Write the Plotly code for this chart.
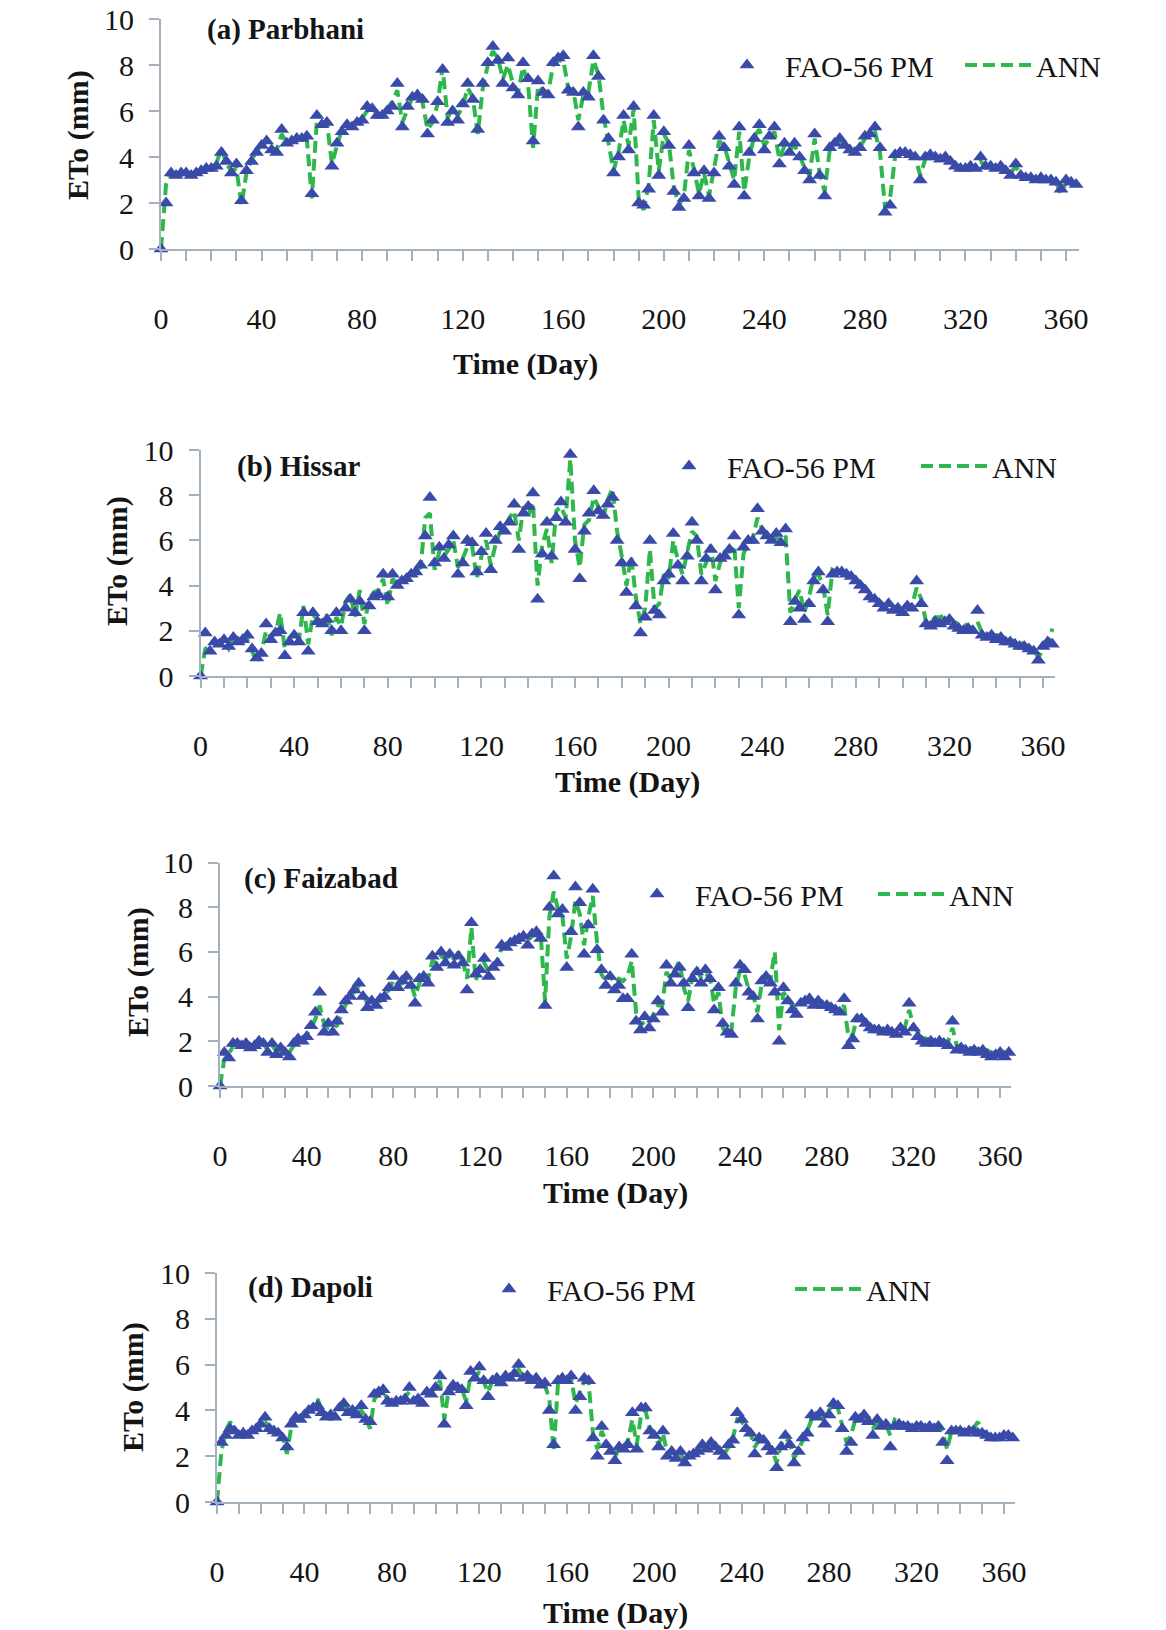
import plotly.graph_objects as go

# ---------------- data ----------------
days = list(range(0, 366, 2))
x_tick_vals = [0, 40, 80, 120, 160, 200, 240, 280, 320, 360]
x_tick_text = ["0", "40", "80", "120", "160", "200", "240", "280", "320", "360"]
y_tick_vals = [0, 2, 4, 6, 8, 10]
y_tick_text = ["0", "2", "4", "6", "8", "10"]
series_names = ["FAO-56 PM", "ANN"]
station_titles = ["(a) Parbhani", "(b) Hissar", "(c) Faizabad", "(d) Dapoli"]

parbhani_fao = [
    0, 2.0, 3.3, 3.2, 3.3, 3.3, 3.2, 3.3, 3.4, 3.5,
    3.5, 3.6, 4.2, 3.8, 3.3, 3.7, 2.1, 3.4, 3.8, 4.2,
    4.5, 4.7, 4.3, 4.2, 5.2, 4.6, 4.7, 4.8, 4.8, 4.9,
    2.4, 5.8, 5.4, 5.5, 3.6, 4.6, 5.1, 5.4, 5.3, 5.5,
    5.6, 6.2, 6.1, 5.8, 5.8, 6.0, 6.2, 7.2, 5.3, 6.2,
    6.6, 6.7, 6.5, 5.0, 5.6, 6.4, 7.8, 5.5, 6.0, 5.6,
    6.3, 7.2, 6.5, 5.2, 7.2, 8.1, 8.8, 8.2, 7.2, 8.3,
    7.0, 6.7, 8.1, 7.4, 4.7, 7.3, 6.8, 6.7, 8.1, 8.3,
    8.4, 6.9, 6.8, 5.3, 6.8, 6.6, 8.4, 7.5, 5.6, 4.8,
    3.3, 4.0, 5.8, 4.3, 6.2, 2.0, 1.9, 2.6, 5.8, 3.2,
    5.1, 4.5, 2.5, 1.8, 2.2, 4.5, 3.3, 2.3, 3.4, 2.2,
    3.3, 4.9, 4.4, 3.6, 2.8, 5.3, 2.3, 4.2, 4.8, 5.4,
    4.3, 4.9, 5.3, 3.7, 4.6, 4.2, 4.6, 4.0, 3.4, 3.0,
    5.0, 3.2, 2.3, 4.4, 4.6, 4.8, 4.5, 4.3, 4.2, 4.4,
    4.9, 5.0, 5.3, 4.4, 1.6, 1.9, 4.1, 4.2, 4.2, 4.1,
    4.0, 3.0, 4.0, 4.1, 4.0, 3.9, 4.0, 3.8, 3.6, 3.5,
    3.5, 3.6, 3.5, 4.0, 3.6, 3.6, 3.5, 3.6, 3.4, 3.2,
    3.7, 3.2, 3.1, 3.1, 3.0, 3.1, 3.0, 3.0, 2.9, 2.6,
    3.0, 2.9, 2.8]
parbhani_ann = [
    0, 2.8, 3.3, 3.2, 3.3, 3.3, 3.3, 3.3, 3.4, 3.5,
    3.5, 3.7, 4.4, 3.7, 3.4, 3.5, 1.9, 3.3, 3.9, 4.2,
    4.6, 4.6, 4.4, 4.3, 5.0, 4.6, 4.7, 4.8, 4.9, 4.8,
    2.2, 5.6, 5.5, 5.5, 3.7, 4.5, 5.2, 5.3, 5.4, 5.5,
    5.7, 6.0, 6.2, 5.8, 5.9, 6.1, 6.4, 6.9, 5.5, 6.1,
    6.6, 6.6, 6.4, 5.2, 5.5, 6.3, 7.9, 5.7, 6.1, 5.8,
    6.2, 7.0, 6.6, 5.0, 7.0, 8.0, 8.6, 8.3, 7.4, 8.0,
    7.2, 6.8, 7.9, 7.2, 4.4, 7.1, 6.9, 6.8, 8.0, 8.2,
    8.2, 7.0, 6.9, 5.6, 6.7, 6.8, 8.2, 7.6, 5.8, 4.6,
    3.4, 4.2, 5.6, 4.5, 6.1, 2.2, 1.7, 2.8, 5.6, 3.4,
    5.0, 4.6, 2.7, 1.9, 2.3, 4.3, 3.5, 2.4, 3.3, 2.3,
    3.5, 4.7, 4.5, 3.8, 3.0, 5.1, 2.5, 4.0, 4.9, 5.2,
    4.5, 4.8, 5.1, 3.9, 4.5, 4.3, 4.5, 4.1, 3.5, 3.2,
    4.8, 3.3, 2.5, 4.3, 4.6, 4.7, 4.5, 4.3, 4.3, 4.4,
    4.8, 5.0, 5.1, 4.2, 1.8, 2.2, 4.0, 4.2, 4.1, 4.1,
    4.0, 3.2, 3.9, 4.0, 4.0, 3.9, 3.9, 3.8, 3.7, 3.5,
    3.6, 3.5, 3.5, 3.8, 3.6, 3.5, 3.5, 3.5, 3.5, 3.3,
    3.6, 3.2, 3.2, 3.1, 3.1, 3.0, 3.0, 3.0, 2.9, 2.4,
    2.9, 2.9, 2.8]

hissar_fao = [
    0, 1.9, 1.1, 1.5, 1.4, 1.6, 1.3, 1.7, 1.5, 1.6,
    1.8, 1.2, 0.8, 1.0, 2.3, 1.6, 1.9, 2.0, 0.9, 1.5,
    1.8, 1.5, 2.8, 1.1, 2.8, 2.4, 2.3, 2.5, 2.0, 2.8,
    2.0, 3.0, 3.4, 2.8, 3.3, 2.0, 3.1, 3.5, 3.6, 4.5,
    3.5, 4.5, 4.0, 4.2, 4.3, 4.5, 4.6, 4.9, 6.2, 7.9,
    5.0, 5.7, 5.2, 5.8, 6.2, 4.5, 5.0, 6.0, 5.9, 4.6,
    5.5, 6.3, 4.7, 6.0, 6.6, 6.4, 6.8, 7.6, 5.6, 7.2,
    7.5, 8.1, 3.4, 5.4, 6.8, 5.3, 7.0, 7.7, 6.8, 9.8,
    5.6, 4.3, 6.4, 7.2, 8.2, 7.3, 7.1, 7.6, 7.9, 6.0,
    5.0, 3.7, 5.0, 3.1, 1.9, 2.6, 6.0, 2.9, 2.7, 4.2,
    4.5, 6.3, 4.9, 4.2, 5.3, 6.8, 6.0, 4.2, 5.2, 5.6,
    3.8, 5.2, 5.3, 5.6, 6.2, 2.7, 5.7, 6.0, 6.0, 7.4,
    6.4, 6.2, 6.0, 6.3, 5.9, 6.5, 2.4, 3.3, 3.0, 2.5,
    3.2, 4.2, 4.6, 3.8, 2.4, 4.5, 4.6, 4.6, 4.5, 4.4,
    4.2, 4.0, 3.8, 3.5, 3.4, 3.2, 3.0, 3.2, 2.9, 3.0,
    2.8, 3.1, 3.0, 4.2, 3.2, 2.3, 2.2, 2.4, 2.3, 2.4,
    2.5, 2.2, 2.1, 2.0, 2.1, 2.0, 2.9, 1.8, 1.7, 1.8,
    1.6, 1.7, 1.5, 1.5, 1.4, 1.3, 1.3, 1.2, 1.1, 0.7,
    1.3, 1.5, 1.4]
hissar_ann = [
    0, 1.2, 1.3, 1.5, 1.5, 1.5, 1.2, 1.6, 1.6, 1.5,
    1.6, 1.1, 0.6, 1.1, 2.0, 1.7, 1.9, 2.8, 1.2, 1.7,
    1.9, 1.6, 3.1, 1.4, 2.7, 2.5, 2.4, 2.7, 1.8, 2.6,
    2.2, 3.3, 3.6, 2.6, 3.8, 2.3, 3.4, 3.7, 3.8, 4.3,
    3.1, 4.3, 4.1, 4.2, 4.4, 4.6, 4.7, 4.8, 7.0, 7.2,
    4.7, 5.5, 5.3, 5.6, 6.0, 4.8, 5.2, 5.7, 5.8, 4.3,
    5.3, 6.0, 4.9, 5.8, 6.4, 6.6, 7.0, 7.3, 6.0, 7.5,
    7.1, 7.7, 4.0, 5.8, 6.5, 5.0, 7.3, 7.5, 7.0, 9.6,
    6.0, 4.8, 6.7, 6.9, 7.9, 7.5, 7.0, 7.8, 8.3, 6.4,
    5.3, 4.0, 5.3, 3.5, 2.3, 3.0, 5.6, 3.0, 3.2, 4.5,
    4.3, 6.0, 5.1, 4.5, 5.5, 6.4, 6.2, 4.5, 5.0, 5.8,
    4.2, 5.0, 5.5, 5.5, 5.8, 3.0, 5.4, 5.9, 6.1, 7.0,
    6.5, 6.1, 6.2, 6.1, 6.0, 6.2, 2.8, 3.4, 3.8, 2.8,
    3.5, 4.4, 4.5, 4.0, 2.7, 4.7, 4.6, 4.6, 4.6, 4.4,
    4.3, 4.1, 3.9, 3.6, 3.5, 3.3, 3.2, 3.3, 3.1, 3.0,
    3.0, 3.2, 3.1, 3.9, 3.4, 2.4, 2.4, 2.6, 2.6, 2.7,
    2.6, 2.4, 2.3, 2.3, 2.2, 2.1, 2.4, 1.9, 1.9, 1.8,
    1.8, 1.8, 1.6, 1.6, 1.5, 1.5, 1.4, 1.3, 1.2, 0.8,
    1.2, 1.4, 2.1]

faizabad_fao = [
    0, 1.5, 1.25, 1.9, 1.9, 1.8, 1.9, 1.7, 1.8, 2.0,
    1.9, 1.5, 1.9, 1.4, 1.7, 1.5, 1.3, 1.9, 2.1, 2.0,
    2.2, 2.7, 3.3, 4.2, 2.4, 2.8, 2.4, 2.9, 3.4, 3.8,
    4.0, 4.3, 4.6, 4.0, 3.5, 3.8, 3.6, 3.9, 4.0, 4.4,
    4.9, 4.4, 4.7, 4.9, 4.5, 3.7, 4.8, 4.9, 4.6, 5.8,
    5.3, 6.0, 5.5, 5.9, 5.4, 5.8, 5.5, 4.3, 7.3, 5.0,
    5.2, 5.7, 4.9, 5.3, 5.5, 6.3, 6.2, 6.4, 6.5, 6.6,
    6.7, 6.3, 6.8, 6.9, 6.6, 3.6, 8.0, 9.4, 7.7, 7.9,
    5.3, 6.9, 8.9, 8.2, 5.9, 7.2, 8.8, 6.1, 5.2, 4.5,
    4.9, 4.3, 4.5, 3.9, 3.9, 5.9, 2.9, 2.5, 3.1, 2.6,
    3.0, 3.8, 3.3, 5.4, 4.6, 5.0, 5.3, 4.6, 3.5, 4.8,
    5.1, 4.6, 5.2, 4.8, 3.4, 4.4, 2.8, 2.4, 2.3, 4.6,
    5.4, 5.2, 4.2, 4.0, 3.0, 4.7, 4.9, 4.6, 4.2, 2.0,
    4.4, 3.8, 3.4, 3.2, 3.7, 3.8, 3.9, 3.6, 3.8, 3.6,
    3.6, 3.5, 3.4, 3.3, 3.9, 1.8, 2.1, 3.0, 3.0, 2.8,
    2.6, 2.5, 2.5, 2.4, 2.5, 2.4, 2.3, 2.6, 2.4, 3.7,
    2.6, 2.2, 2.0, 1.9, 2.0, 1.9, 2.0, 1.9, 1.8, 2.9,
    1.6, 1.7, 1.6, 1.5, 1.6, 1.5, 1.6, 1.4, 1.3, 1.4,
    1.5, 1.3, 1.5]
faizabad_ann = [
    0, 1.2, 1.4, 1.8, 1.9, 1.9, 1.8, 1.8, 1.8, 1.9,
    1.9, 1.6, 1.8, 1.6, 1.6, 1.6, 1.5, 1.8, 2.0, 2.1,
    2.3, 2.6, 3.0, 3.6, 2.8, 2.6, 2.6, 2.7, 3.2, 3.7,
    4.1, 4.2, 4.4, 4.1, 3.7, 3.7, 3.8, 3.8, 4.1, 4.3,
    4.7, 4.5, 4.6, 4.7, 4.6, 4.0, 4.6, 5.0, 4.8, 5.6,
    5.5, 5.8, 5.7, 5.8, 5.6, 6.0, 5.6, 4.8, 7.1, 4.7,
    5.4, 5.5, 5.1, 5.2, 5.6, 6.2, 6.2, 6.4, 6.5, 6.5,
    6.6, 6.5, 6.7, 6.8, 6.8, 3.8, 7.6, 8.7, 7.9, 7.6,
    5.7, 6.7, 8.3, 7.7, 6.3, 7.6, 8.5, 6.4, 5.0, 4.7,
    5.0, 4.6, 4.8, 4.7, 4.9, 5.6, 3.3, 2.7, 2.9, 2.8,
    3.2, 3.6, 3.6, 5.1, 4.8, 5.2, 5.6, 4.4, 3.8, 4.9,
    5.3, 4.8, 5.0, 4.9, 3.7, 4.2, 2.6, 2.3, 2.5, 4.4,
    5.2, 5.0, 4.3, 4.1, 3.3, 4.6, 4.8, 4.8, 6.0, 2.5,
    4.2, 3.9, 3.6, 3.4, 3.8, 3.8, 3.9, 3.7, 3.8, 3.6,
    3.7, 3.6, 3.5, 3.4, 3.6, 2.2, 2.3, 3.1, 3.0, 2.9,
    2.7, 2.6, 2.6, 2.5, 2.5, 2.5, 2.4, 2.6, 2.6, 3.4,
    2.7, 2.4, 2.2, 2.1, 2.1, 2.0, 2.1, 2.0, 2.0, 2.6,
    1.8, 1.8, 1.7, 1.7, 1.7, 1.6, 1.7, 1.6, 1.5, 1.5,
    1.6, 1.5, 1.5]

dapoli_fao = [
    0, 2.6, 2.9, 3.2, 3.1, 2.9, 3.0, 2.9, 3.1, 3.2,
    3.4, 3.7, 3.2, 3.1, 3.0, 2.8, 2.4, 3.4, 3.7, 3.6,
    3.8, 4.0, 4.1, 4.2, 3.9, 3.7, 3.8, 3.7, 4.1, 4.3,
    3.9, 4.0, 3.8, 4.2, 3.6, 3.5, 4.7, 4.8, 4.9, 4.4,
    4.3, 4.4, 4.4, 4.5, 5.0, 4.4, 4.5, 4.3, 4.8, 4.7,
    5.0, 5.5, 3.4, 4.8, 5.1, 5.0, 4.9, 4.2, 5.7, 5.4,
    5.9, 5.3, 4.6, 5.3, 5.4, 5.2, 5.5, 5.4, 5.6, 6.0,
    5.4, 5.5, 5.3, 5.4, 5.1, 5.2, 4.0, 2.5, 5.3, 5.4,
    5.3, 5.5, 4.0, 4.6, 5.4, 5.3, 2.8, 2.0, 3.3, 2.5,
    2.2, 1.8, 2.4, 2.3, 2.5, 3.9, 2.3, 4.1, 4.1, 3.1,
    2.9, 2.4, 3.1, 2.0, 2.2, 1.9, 2.2, 1.7, 2.0, 2.1,
    2.2, 2.5, 2.3, 2.6, 2.4, 2.2, 2.0, 2.5, 2.7, 3.9,
    3.6, 3.2, 3.0, 2.1, 2.8, 2.7, 2.4, 2.2, 1.5, 2.4,
    2.9, 2.5, 1.7, 2.2, 2.8, 3.0, 3.8, 3.7, 3.9, 3.4,
    3.8, 4.3, 4.2, 3.2, 2.2, 2.6, 3.7, 3.6, 3.8, 3.5,
    2.9, 3.6, 3.3, 3.4, 2.4, 3.3, 3.4, 3.3, 3.3, 3.2,
    3.3, 3.3, 3.2, 3.3, 3.2, 3.3, 2.6, 1.8, 3.1, 3.1,
    3.1, 3.0, 3.1, 3.1, 3.0, 3.0, 2.9, 2.8, 2.8, 2.8,
    2.9, 2.9, 2.8]
dapoli_ann = [
    0, 2.2, 3.1, 3.5, 3.2, 3.0, 3.0, 3.0, 3.1, 3.2,
    3.3, 3.5, 3.3, 3.2, 3.1, 2.9, 2.1, 3.3, 3.6, 3.7,
    3.8, 4.0, 4.2, 4.5, 4.0, 3.8, 3.8, 3.8, 4.0, 4.2,
    4.0, 4.0, 3.9, 4.0, 3.7, 3.2, 4.5, 4.7, 4.8, 4.5,
    4.4, 4.4, 4.5, 4.6, 4.8, 4.5, 4.5, 4.4, 4.7, 4.8,
    5.0, 5.3, 3.6, 4.9, 5.0, 5.0, 4.9, 4.4, 5.5, 5.4,
    5.7, 5.3, 4.8, 5.3, 5.4, 5.3, 5.4, 5.4, 5.6, 5.8,
    5.5, 5.4, 5.3, 5.3, 5.2, 5.1, 4.5, 2.2, 5.2, 5.3,
    5.3, 5.4, 4.3, 4.8, 5.3, 5.2, 3.0, 2.3, 3.1, 2.6,
    2.3, 1.9, 2.5, 2.4, 2.7, 3.6, 2.5, 3.8, 4.0, 3.2,
    3.0, 2.5, 3.0, 2.1, 2.2, 2.0, 2.1, 1.8, 2.0, 2.2,
    2.3, 2.4, 2.4, 2.5, 2.5, 2.3, 2.1, 2.4, 2.8, 3.6,
    3.5, 3.3, 3.0, 2.4, 2.7, 2.8, 2.5, 2.3, 1.7, 2.5,
    2.8, 2.6, 1.9, 2.3, 2.7, 3.1, 3.6, 3.6, 3.8, 3.5,
    4.0, 4.4, 4.1, 3.4, 2.6, 2.9, 3.6, 3.7, 3.7, 3.6,
    3.2, 3.5, 3.4, 3.4, 2.9, 3.6, 3.5, 3.4, 3.4, 3.3,
    3.4, 3.4, 3.3, 3.3, 3.3, 3.4, 3.0, 2.3, 3.1, 3.1,
    3.2, 3.1, 3.2, 3.2, 3.5, 3.1, 3.0, 2.9, 2.9, 2.8,
    2.9, 2.9, 2.8]

fao_series = [parbhani_fao, hissar_fao, faizabad_fao, dapoli_fao]
ann_series = [parbhani_ann, hissar_ann, faizabad_ann, dapoli_ann]

# ---------------- layout (pixel geometry of the page) ----------------
W, H = 1166, 1630
def px(v):
    return v / W
def py(v):
    return 1 - v / H

ITEMW = 66
# per panel: plot-area left/right (px), top/bottom (px), title pos, axis-title pos,
# legend item starts (s1, s2) and legend row centre (ly)
geom = [
    dict(l=161, r=1078.6, t=19, b=249, tx=205, ty=29, xtx=525, xty=364, ytx=78, yty=135,
         s1=709, s2=960, ly=65),
    dict(l=200.6, r=1054.7, t=450, b=676, tx=235, ty=466, xtx=628, xty=782, ytx=117, yty=561,
         s1=651, s2=916, ly=466),
    dict(l=220, r=1011, t=862.5, b=1086, tx=242, ty=878, xtx=615, xty=1193, ytx=138, yty=972,
         s1=619, s2=873, ly=894),
    dict(l=217, r=1014.9, t=1273, b=1502, tx=246, ty=1287, xtx=615, xty=1613, ytx=133, yty=1387,
         s1=471, s2=790, ly=1289),
]

SERIF = "Liberation Serif, Times New Roman, serif"
BLUE = "#3a4aa8"
GREEN = "#2eb84c"
AXIS = "#a3b1be"
TXT = "#141414"

fig = go.Figure()
layout = dict(
    width=W, height=H, margin=dict(l=0, r=0, t=0, b=0, autoexpand=False),
    paper_bgcolor="white", plot_bgcolor="white", showlegend=True,
)
annotations = []

for i, g in enumerate(geom):
    n = i + 1
    xa = "x" if n == 1 else f"x{n}"
    ya = "y" if n == 1 else f"y{n}"
    lg = "legend" if n == 1 else f"legend{n}"
    first_w = g["s2"] - g["s1"] - (ITEMW + 10) - 5
    # ANN line drawn first so that the triangles sit on top of it
    fig.add_trace(go.Scatter(
        x=days, y=ann_series[i], mode="lines", name=series_names[1],
        line=dict(color=GREEN, width=4, dash="12px,6px"),
        xaxis=xa, yaxis=ya, legend=lg, legendrank=2, legendwidth=90, cliponaxis=False,
    ))
    fig.add_trace(go.Scatter(
        x=days, y=fao_series[i], mode="markers", name=series_names[0],
        marker=dict(symbol="triangle-up", size=13, color=BLUE, line=dict(width=0)),
        xaxis=xa, yaxis=ya, legend=lg, legendrank=1, legendwidth=first_w, cliponaxis=False,
    ))
    xkey = "xaxis" if n == 1 else f"xaxis{n}"
    ykey = "yaxis" if n == 1 else f"yaxis{n}"
    layout[xkey] = dict(
        domain=[px(g["l"]), px(g["r"])], range=[0, 365], anchor=ya,
        showline=True, linecolor=AXIS, linewidth=2, showgrid=False, zeroline=False,
        ticks="outside", ticklen=10, tickwidth=1.5, tickcolor=AXIS,
        tickmode="array", tickvals=x_tick_vals, ticktext=x_tick_text,
        minor=dict(dtick=10, tick0=0, ticks="outside", ticklen=10, tickwidth=1.5,
                   tickcolor=AXIS, showgrid=False),
        tickfont=dict(family=SERIF, size=30, color=TXT),
        ticklabelstandoff=32, automargin=False,
    )
    layout[ykey] = dict(
        domain=[py(g["b"]), py(g["t"])], range=[0, 10], anchor=xa,
        showline=True, linecolor=AXIS, linewidth=2, showgrid=False, zeroline=False,
        ticks="outside", ticklen=10, tickwidth=1.5, tickcolor=AXIS,
        tickmode="array", tickvals=y_tick_vals, ticktext=y_tick_text,
        tickfont=dict(family=SERIF, size=30, color=TXT),
        ticklabelstandoff=9, automargin=False,
    )
    layout[lg] = dict(
        orientation="h", x=px(g["s1"]), xanchor="left", y=py(g["ly"]), yanchor="middle",
        font=dict(family=SERIF, size=30, color=TXT), bgcolor="rgba(0,0,0,0)",
        itemwidth=ITEMW, traceorder="normal", borderwidth=0,
    )
    annotations.append(dict(
        text=f"<b>{station_titles[i]}</b>", x=px(g["tx"]), y=py(g["ty"]),
        xref="paper", yref="paper", xanchor="left", yanchor="middle", showarrow=False,
        font=dict(family=SERIF, size=29, color=TXT)))
    annotations.append(dict(
        text="<b>Time (Day)</b>", x=px(g["xtx"]), y=py(g["xty"]),
        xref="paper", yref="paper", xanchor="center", yanchor="middle", showarrow=False,
        font=dict(family=SERIF, size=30, color=TXT)))
    annotations.append(dict(
        text="<b>ETo (mm)</b>", x=px(g["ytx"]), y=py(g["yty"]), textangle=-90,
        xref="paper", yref="paper", xanchor="center", yanchor="middle", showarrow=False,
        font=dict(family=SERIF, size=30, color=TXT)))

layout["annotations"] = annotations
fig.update_layout(**layout)
# the page's default 8px body margin would shift the whole figure; remove it
fig.write_html("out.html", config={"displayModeBar": False},
               post_script="document.body.style.margin='0px';")
